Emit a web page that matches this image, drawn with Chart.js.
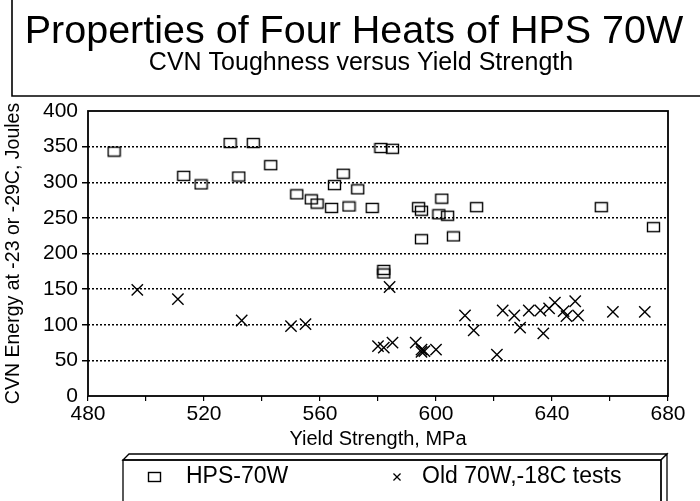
<!DOCTYPE html>
<html>
<head>
<meta charset="utf-8">
<script src="https://cdn.jsdelivr.net/npm/chart.js@4.4.0/dist/chart.umd.min.js"></script>
<style>
  html, body { margin: 0; padding: 0; background: #fff; }
  #wrap { position: relative; width: 700px; height: 501px; }
</style>
</head>
<body>
<div id="wrap"><canvas id="chart" width="700" height="501"></canvas></div>
<script>
// values
const hpsYield  = [489, 529, 537, 543, 513, 519, 532, 552, 557, 559, 564, 565, 568, 573, 570, 578, 581, 585, 602, 594, 595, 601, 604, 614, 657, 675, 595, 606, 582, 582];
const hpsEnergy = [343, 355, 355, 324, 309, 297, 308, 283, 276, 270, 264, 296, 312, 290, 266, 264, 348, 347, 277, 265, 260, 255, 253, 265, 265, 237, 220, 224, 177, 172];

const oldYield  = [497, 511, 533, 550, 555, 582, 580, 584, 585, 593, 595, 596, 595, 600, 610, 613, 621, 623, 627, 629, 632, 636, 637, 639, 641, 644, 645, 648, 649, 661, 672];
const oldEnergy = [149, 136, 106, 98, 101, 68, 70, 153, 75, 75, 62, 63, 65, 65, 113, 92, 58, 120, 113, 96, 120, 120, 88, 123, 131, 119, 112, 133, 113, 118, 118];

const seriesLabels = ['HPS-70W', 'Old 70W,-18C tests'];
const xTicks = [480, 520, 560, 600, 640, 680];
const yTicks = [0, 50, 100, 150, 200, 250, 300, 350, 400];
const titleText = 'Properties of Four Heats of HPS 70W';
const subtitleText = 'CVN Toughness versus Yield Strength';

const FONT = '"Liberation Sans", Arial, Helvetica, sans-serif';
Chart.defaults.font.family = FONT;
Chart.defaults.color = '#000';

// open rectangle marker, a bit wider than tall like the original
const boxMark = document.createElement('canvas');
boxMark.width = 15; boxMark.height = 12;
(() => {
  const c = boxMark.getContext('2d');
  c.strokeStyle = '#000';
  c.lineWidth = 1.4;
  c.strokeRect(1.5, 1.5, 12, 9);
})();

const pts = (xs, ys) => xs.map((x, i) => ({ x, y: ys[i] }));

// titles, title box rule, plot frame and the 3-D legend box
const framePlugin = {
  id: 'frame',
  afterDraw(chart) {
    const { ctx, chartArea: a } = chart;
    ctx.save();
    ctx.fillStyle = '#000';
    ctx.textAlign = 'center';
    ctx.textBaseline = 'middle';
    ctx.font = '39.5px ' + FONT;
    ctx.fillText(titleText, 354, 32);
    ctx.font = '25px ' + FONT;
    ctx.fillText(subtitleText, 361, 63);

    ctx.strokeStyle = '#000';
    ctx.lineWidth = 1.6;
    ctx.beginPath();
    ctx.moveTo(12, 0); ctx.lineTo(12, 96); ctx.lineTo(700, 96);
    ctx.stroke();
    ctx.lineWidth = 1.8;
    ctx.strokeRect(a.left, a.top, a.right - a.left, a.bottom - a.top);

    // legend
    const L = 123, R = 661, T = 460, B = 503, d = 6;
    ctx.lineWidth = 1.3;
    ctx.fillStyle = '#fff';
    ctx.beginPath();
    ctx.moveTo(L, T); ctx.lineTo(L + d, T - d); ctx.lineTo(R + d, T - d); ctx.lineTo(R, T); ctx.closePath();
    ctx.fill(); ctx.stroke();
    ctx.beginPath();
    ctx.moveTo(R, T); ctx.lineTo(R + d, T - d); ctx.lineTo(R + d, B); ctx.lineTo(R, B); ctx.closePath();
    ctx.fill(); ctx.stroke();
    ctx.strokeRect(L, T, R - L, B - T);

    const y = 477;
    ctx.fillStyle = '#000';
    ctx.font = '23px ' + FONT;
    ctx.textAlign = 'left';
    ctx.drawImage(boxMark, 147, y - 6);
    ctx.fillText(chart.data.datasets[0].label, 186, y);
    Chart.helpers.drawPoint(ctx, { pointStyle: 'crossRot', radius: 5, borderWidth: 1.1 }, 397, y);
    ctx.fillText(chart.data.datasets[1].label, 422, y);
    ctx.restore();
  }
};

new Chart(document.getElementById('chart'), {
  type: 'scatter',
  data: {
    datasets: [
      {
        label: seriesLabels[0], data: pts(hpsYield, hpsEnergy),
        pointStyle: boxMark, pointRadius: 7, borderColor: '#000', backgroundColor: '#000'
      },
      {
        label: seriesLabels[1], data: pts(oldYield, oldEnergy),
        pointStyle: 'crossRot', pointRadius: 8, borderWidth: 1.4, borderColor: '#000', backgroundColor: '#000'
      }
    ]
  },
  options: {
    responsive: false, animation: false,
    layout: { padding: { left: 0, right: 32, top: 111, bottom: 46 } },
    plugins: {
      legend: { display: false },
      tooltip: { enabled: false }
    },
    scales: {
      x: {
        type: 'linear', min: 480, max: 680,
        afterFit: s => { s.height = 59; },
        ticks: {
          stepSize: 20, padding: 3, maxRotation: 0, autoSkip: false,
          font: { size: 21, lineHeight: 1 },
          callback: v => xTicks.includes(v) ? v : ''
        },
        grid: { drawOnChartArea: false, drawTicks: true, tickLength: 5, color: '#000', lineWidth: 1.2 },
        border: { display: false },
        title: { display: true, text: 'Yield Strength, MPa', font: { size: 20 }, padding: { top: 2, bottom: 4 } }
      },
      y: {
        min: 0, max: 400,
        afterFit: s => { s.width = 88; },
        afterBuildTicks: s => { s.ticks = yTicks.map(v => ({ value: v })); },
        ticks: { padding: 4, font: { size: 21 } },
        grid: {
          drawTicks: true, tickLength: 6, lineWidth: 1.5,
          color: c => (c.tick && (c.tick.value === 0 || c.tick.value === 400)) ? 'rgba(0,0,0,0)' : '#000'
        },
        border: { display: false, dash: [2, 2] },
        title: { display: true, text: 'CVN Energy at -23 or -29C, Joules', font: { size: 19.5 }, padding: { top: 2, bottom: 4 } }
      }
    }
  },
  plugins: [framePlugin]
});
</script>
</body>
</html>
